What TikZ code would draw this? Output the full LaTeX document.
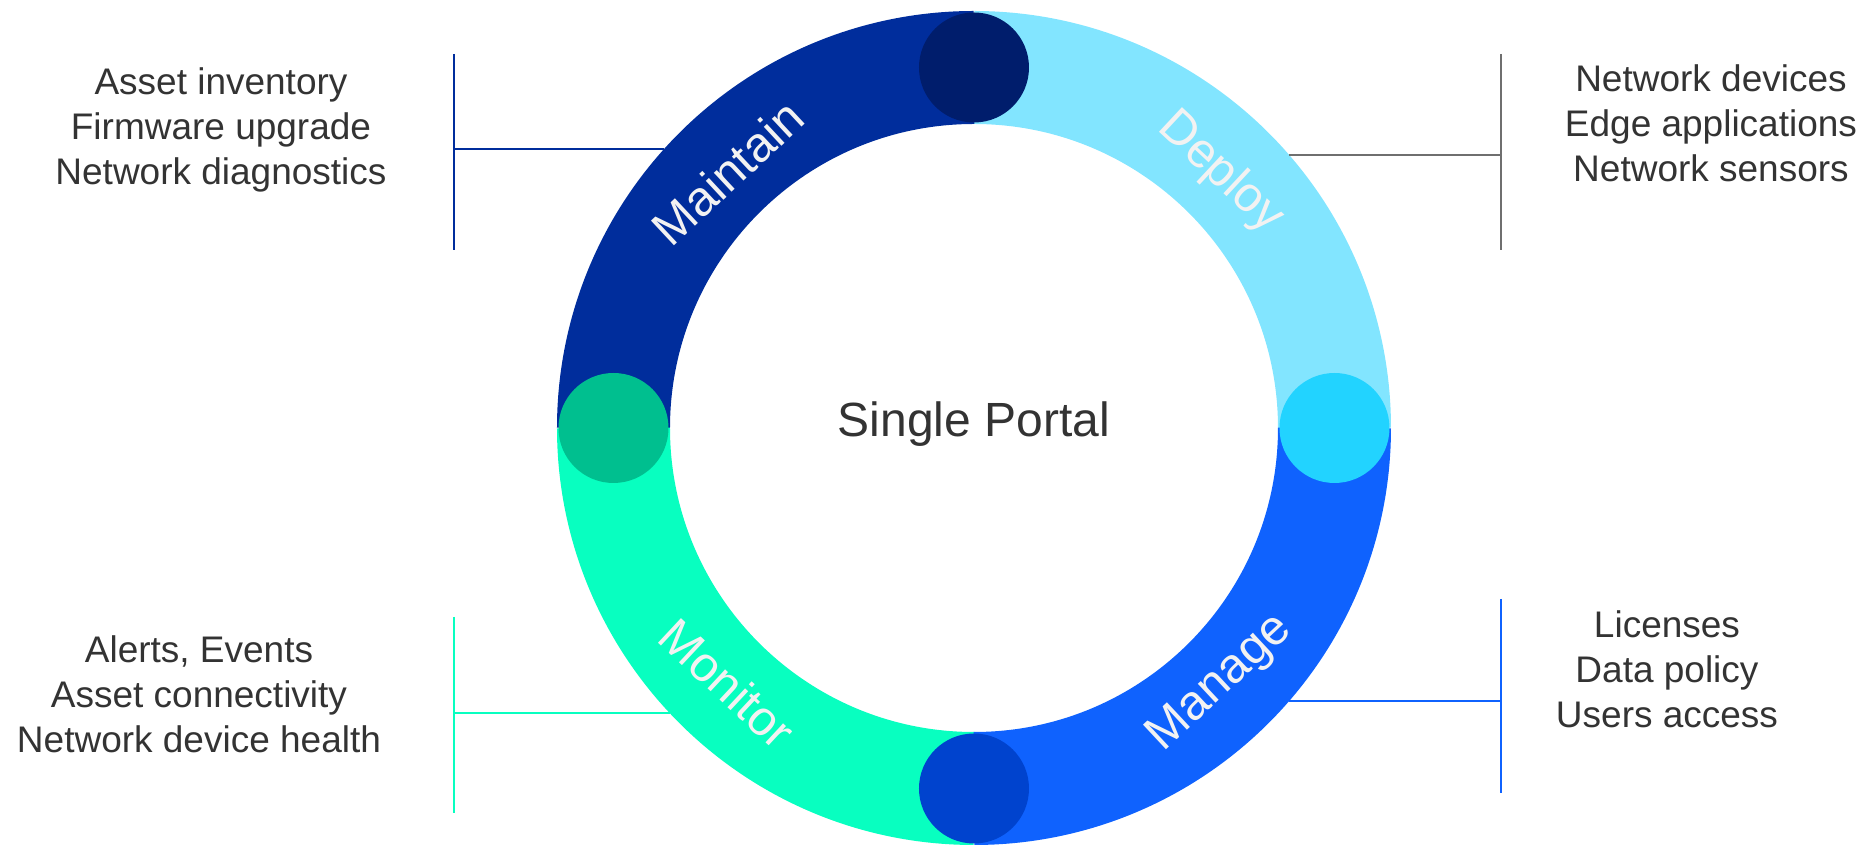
\documentclass[tikz,border=0pt]{standalone}
\usepackage{fontspec}
\setmainfont{Liberation Sans}
\usepackage{xcolor}
\usetikzlibrary{positioning}
\definecolor{maintainblue}{HTML}{002D9C}
\definecolor{deploycyan}{HTML}{82E5FF}
\definecolor{manageblue}{HTML}{0F62FE}
\definecolor{monitormint}{HTML}{08FFC0}
\definecolor{knottop}{HTML}{001D6C}
\definecolor{knotright}{HTML}{22D3FF}
\definecolor{knotbottom}{HTML}{0043CE}
\definecolor{knotleft}{HTML}{00BF8F}
\definecolor{bargray}{HTML}{6F6F6F}
\definecolor{textgray}{HTML}{333333}
\definecolor{labelwhite}{HTML}{F2F2F2}

\begin{document}
\begin{tikzpicture}[x=0.5pt, y=0.5pt,
  segment/.style={line width=56.5pt},
  knot/.style={circle, minimum size=55pt, inner sep=0pt},
  phase/.style={text=labelwhite, inner sep=0pt, font=\fontsize{24.5}{28}\selectfont},
  tasks/.style={align=center, text=textgray, font=\fontsize{18.5}{22.4}\selectfont},
  bar/.style={line width=1pt}
]
\useasboundingbox (-974,-421) rectangle (896,428);

% Ring segments
\draw[segment, deploycyan] (0:360.5) arc (0:90:360.5);
\draw[segment, maintainblue] (90:360.5) arc (90:180:360.5);
\draw[segment, monitormint] (180:360.5) arc (180:270:360.5);
\draw[segment, manageblue] (270:360.5) arc (270:360:360.5);

% Knots between segments
\node[knot, fill=knottop] (knotTop) at (90:360.5) {};
\node[knot, fill=knotleft] (knotLeft) at (180:360.5) {};
\node[knot, fill=knotbottom] (knotBottom) at (270:360.5) {};
\node[knot, fill=knotright] (knotRight) at (0:360.5) {};

% Phase names
\node[phase, rotate=43] (lblMaintain) at (134:355) {Maintain};
\node[phase, rotate=-43] (lblDeploy) at (46:355) {Deploy};
\node[phase, rotate=-43] (lblMonitor) at (226:355) {Monitor};
\node[phase, rotate=43] (lblManage) at (314:355) {Manage};

% Centre
\node[text=textgray, font=\fontsize{24}{28}\selectfont] (portal) at (0,4) {Single Portal};

% Task lists
\node[tasks] (tMaintain) at (-753,298)
  {Asset inventory\\ Firmware upgrade\\ Network diagnostics};
\node[tasks] (tDeploy) at (737,305)
  {Network devices\\ Edge applications\\ Network sensors};
\node[tasks] (tMonitor) at (-775,-266)
  {Alerts, Events\\ Asset connectivity\\ Network device health};
\node[tasks] (tManage) at (693,-241)
  {Licenses\\ Data policy\\ Users access};

% Brackets
\coordinate (mtTop) at (-520,374);
\coordinate (mtBot) at (-520,178);
\coordinate (mtJoin) at (-520,279);
\coordinate (mtEdge) at (-310,279);
\draw[bar, maintainblue] (mtTop) -- (mtBot);
\draw[bar, maintainblue] (mtJoin) -- (mtEdge);

\coordinate (dpTop) at (527,374);
\coordinate (dpBot) at (527,178);
\coordinate (dpJoin) at (527,273);
\coordinate (dpEdge) at (315,273);
\draw[bar, bargray] (dpTop) -- (dpBot);
\draw[bar, bargray] (dpJoin) -- (dpEdge);

\coordinate (moTop) at (-520,-189);
\coordinate (moBot) at (-520,-385);
\coordinate (moJoin) at (-520,-285);
\coordinate (moEdge) at (-304,-285);
\draw[bar, monitormint] (moTop) -- (moBot);
\draw[bar, monitormint] (moJoin) -- (moEdge);

\coordinate (mgTop) at (527,-171);
\coordinate (mgBot) at (527,-365);
\coordinate (mgJoin) at (527,-273);
\coordinate (mgEdge) at (315,-273);
\draw[bar, manageblue] (mgTop) -- (mgBot);
\draw[bar, manageblue] (mgJoin) -- (mgEdge);

\end{tikzpicture}
\end{document}
